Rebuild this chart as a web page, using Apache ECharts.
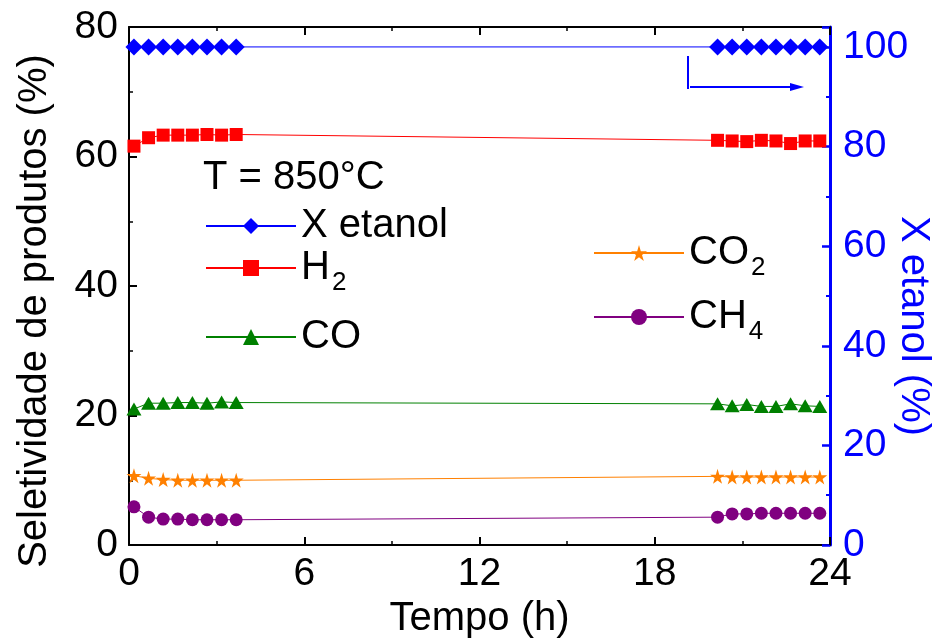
<!DOCTYPE html>
<html><head><meta charset="utf-8">
<script src="https://cdn.jsdelivr.net/npm/echarts@6/dist/echarts.min.js"></script>
<style>html,body{margin:0;padding:0;background:#fff}#c{width:938px;height:644px}</style>
</head><body><div id="c"></div>
<script>
const timeH = [0.17,0.67,1.17,1.67,2.17,2.67,3.17,3.67, 20.15,20.65,21.15,21.65,22.15,22.65,23.15,23.65];
const xEtanol = [100,100,100,100,100,100,100,100, 100,100,100,100,100,100,100,100];
const h2  = [61.6,62.9,63.3,63.3,63.3,63.4,63.3,63.4, 62.5,62.4,62.3,62.5,62.4,62.0,62.4,62.4];
const co  = [21.0,21.9,21.9,22.0,22.0,21.9,22.1,22.0, 21.8,21.5,21.7,21.4,21.4,21.8,21.5,21.4];
const co2 = [10.7,10.3,10.1,10.0,10.0,10.0,10.0,10.0, 10.6,10.5,10.5,10.5,10.5,10.5,10.5,10.5];
const ch4 = [5.9,4.3,4.0,4.0,3.9,3.9,3.9,3.9, 4.3,4.8,4.8,4.9,4.9,4.9,4.9,4.9];
const xTicks = [0,6,12,18,24];

const F = 'Liberation Sans, Arial, sans-serif';
const FS = 39;
const star = 'path://M50,0 L61,35 L98,35 L68,57 L79,91 L50,70 L21,91 L32,57 L2,35 L39,35 Z';
const pair = a => timeH.map((t,i)=>[t,a[i]]);
const chart = echarts.init(document.getElementById('c'));
const rich = {
  n:{fontSize:40,fontFamily:F,color:'#000',lineHeight:44},
  s:{fontSize:26,fontFamily:F,color:'#000',lineHeight:44,padding:[30,0,0,2]}
};
function mkLegend(name, left, top){
  return {data:[name],left:left,top:top,orient:'vertical',itemWidth:90,itemHeight:20,itemGap:0,padding:0,
    textStyle:{fontSize:40,fontFamily:F,color:'#000',rich:rich},
    formatter:n=>({'H2':'{n|H}{s|2}','CO2':'{n|CO}{s|2}','CH4':'{n|CH}{s|4}'}[n]||'{n|'+n+'}')};
}
function ser(name,data,color,symbol,size,yIdx){
  return {name:name,type:'line',data:pair(data),yAxisIndex:yIdx||0,symbol:symbol,symbolSize:size,
    showAllSymbol:true,lineStyle:{color:color,width:1},itemStyle:{color:color},color:color,animation:false};
}
const tickX = {inside:true,length:8,lineStyle:{width:2}};
chart.setOption({
  animation:false,
  grid:{left:129,right:108,top:27,bottom:99,containLabel:false,outerBoundsMode:'none'},
  legend:[mkLegend('X etanol',205,206),mkLegend('H2',205,240),mkLegend('CO',205,317),
          mkLegend('CO2',593,225),mkLegend('CH4',593,289)],
  xAxis:[{type:'value',min:0,max:24,interval:6,
    name:'Tempo (h)',nameLocation:'middle',nameGap:54,nameMoveOverlap:false,
    nameTextStyle:{fontSize:40,fontFamily:F,color:'#000'},
    axisLine:{onZero:false,lineStyle:{color:'#000',width:2}},
    axisTick:tickX,
    minorTick:{show:true,splitNumber:2,length:4,lineStyle:{color:'#000',width:1.5}},
    axisLabel:{fontSize:FS,fontFamily:F,color:'#000',margin:10},
    splitLine:{show:false}},
   {type:'value',position:'top',min:0,max:24,interval:6,
    axisLine:{onZero:false,lineStyle:{color:'#000',width:2}},
    axisTick:tickX,
    minorTick:{show:true,splitNumber:2,length:4,lineStyle:{color:'#000',width:1.5}},
    axisLabel:{show:false},splitLine:{show:false}}],
  yAxis:[{type:'value',min:0,max:80,interval:20,position:'left',
    name:'Seletividade de produtos (%)',nameLocation:'middle',nameGap:74,nameMoveOverlap:false,
    nameTextStyle:{fontSize:40,fontFamily:F,color:'#000',padding:[0,50,0,0]},
    axisLine:{show:true,onZero:false,lineStyle:{color:'#000',width:2}},
    axisTick:tickX,
    minorTick:{show:true,splitNumber:2,length:4,lineStyle:{color:'#000',width:1.5}},
    axisLabel:{fontSize:FS,fontFamily:F,color:'#000',margin:11},
    splitLine:{show:false}},
   {type:'value',min:0,max:104,interval:20,position:'right',
    name:'X etanol (%)',nameLocation:'middle',nameGap:63,nameRotate:-90,nameMoveOverlap:false,
    nameTextStyle:{fontSize:40,fontFamily:F,color:'#0000ff',padding:[0,0,0,80]},
    axisLine:{show:true,onZero:false,lineStyle:{color:'#0000ff',width:3}},
    axisTick:{inside:true,length:8,lineStyle:{width:2.5}},
    minorTick:{show:true,splitNumber:2,length:4,lineStyle:{color:'#0000ff',width:2}},
    axisLabel:{fontSize:FS,fontFamily:F,color:'#0000ff',margin:13,showMaxLabel:false},
    splitLine:{show:false}}],
  series:[
    ser('X etanol',xEtanol,'#0000ff','diamond',[17,17],1),
    ser('H2',h2,'#ff0000','rect',13),
    ser('CO',co,'#008000','triangle',[15,13]),
    ser('CO2',co2,'#ff8000',star,15),
    ser('CH4',ch4,'#800080','circle',13)
  ],
  graphic:[
    {type:'text',left:203,top:158,style:{text:'T = 850°C',font:'40px '+F,fill:'#000'}},
    {type:'polyline',shape:{points:[[688,56],[688,89]]},style:{stroke:'#0000ff',lineWidth:2}},
    {type:'polyline',shape:{points:[[690,87],[792,87]]},style:{stroke:'#0000ff',lineWidth:2}},
    {type:'polygon',shape:{points:[[790,83],[804,87],[790,91]]},style:{fill:'#0000ff'}}
  ]
});
</script></body></html>
